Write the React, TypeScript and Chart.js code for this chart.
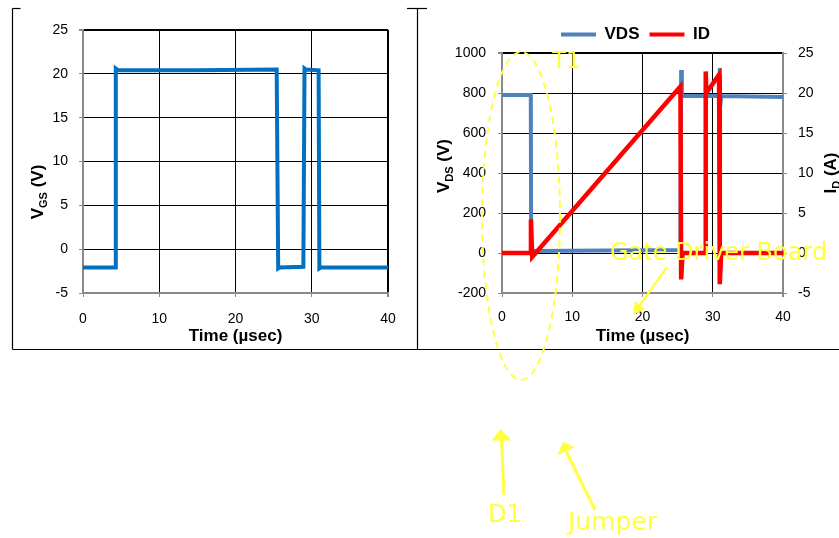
import React, { useEffect, useRef } from 'react';
import { Chart, registerables } from 'chart.js';

Chart.register(...registerables);

// ---------- data ----------
const timeTicks = [0, 10, 20, 30, 40];
const vgsTicks = [-5, 0, 5, 10, 15, 20, 25];
const vdsTicks = [-200, 0, 200, 400, 600, 800, 1000];
const idTicks = [-5, 0, 5, 10, 15, 20, 25];

// Gate-source voltage (left chart), time in µs, value in V
const vgsTime = [0, 4.2, 4.3, 4.6, 15, 25.4, 25.6, 25.8, 28.9, 29.05, 29.2, 30.9, 31.0, 31.2, 40];
const vgsValues = [-2.1, -2.1, 20.6, 20.4, 20.4, 20.5, -2.2, -2.1, -2.0, 20.6, 20.5, 20.4, -2.2, -2.1, -2.1];

// Drain-source voltage (right chart), V
const vdsTime = [0, 4.1, 4.15, 4.3, 25.4, 25.5, 25.6, 30.9, 31.0, 31.05, 31.2, 40];
const vdsValues = [790, 790, 10, 10, 15, 915, 785, 785, 925, 730, 785, 780];

// Drain current (right chart), A
const idTime = [0, 4.1, 4.12, 4.3, 25.4, 25.5, 25.7, 28.95, 29.0, 29.08, 30.9, 31.0, 31.2, 40];
const idValues = [0, 0, 4.2, -0.5, 20.8, -3.3, 0, 0, 22.7, 20.0, 22.3, -3.9, 0, 0];

const FONT = "'Liberation Sans', Arial, Helvetica, sans-serif";
const NOTE_FONT = "'DejaVu Sans', Verdana, sans-serif";
const GRAY = '#8a8a8a';
const YELLOW = '#FFFF40';

const toPoints = (xs: number[], ys: number[]) => xs.map((x, i) => ({ x, y: ys[i] }));

function gridColor(min: number, max: number, hideMax: boolean) {
  return (ctx: any) => {
    const v = ctx.tick ? ctx.tick.value : null;
    if (v === min) return 'rgba(0,0,0,0)';
    if (v === max && hideMax) return 'rgba(0,0,0,0)';
    return '#000';
  };
}
function gridWidth(max: number) {
  return (ctx: any) => (ctx.tick && ctx.tick.value === max ? 2 : 1);
}
const plainLabel = (v: any) => String(v);

function xScale(tickPad: number, hideMax: boolean) {
  return {
    type: 'linear',
    min: 0,
    max: 40,
    afterBuildTicks: (s: any) => {
      s.ticks = timeTicks.map((v) => ({ value: v }));
    },
    ticks: { font: { family: FONT, size: 14 }, color: '#000', padding: tickPad, maxRotation: 0, autoSkip: false, callback: plainLabel },
    grid: { color: gridColor(0, 40, hideMax), lineWidth: gridWidth(40), tickLength: 4, tickColor: GRAY },
    border: { color: GRAY, width: 2 },
    title: {
      display: true,
      text: 'Time (µsec)',
      font: { family: FONT, size: 17, weight: 'bold' },
      color: '#000',
      padding: { top: 0, bottom: 3 },
    },
    afterFit: (s: any) => {
      s.height = 57;
    },
  };
}

function yScale(min: number, max: number, ticksArr: number[], width: number, pad: number) {
  return {
    type: 'linear',
    position: 'left',
    min,
    max,
    afterBuildTicks: (s: any) => {
      s.ticks = ticksArr.map((v) => ({ value: v }));
    },
    ticks: { font: { family: FONT, size: 14 }, color: '#000', padding: pad, autoSkip: false, callback: plainLabel },
    grid: { color: gridColor(min, max, false), lineWidth: gridWidth(max), tickLength: 4, tickColor: GRAY },
    border: { color: GRAY, width: 2 },
    afterFit: (s: any) => {
      s.width = width;
    },
  };
}

export default function App() {
  const leftRef = useRef<HTMLCanvasElement>(null);
  const rightRef = useRef<HTMLCanvasElement>(null);

  useEffect(() => {
    const left = new Chart(leftRef.current as HTMLCanvasElement, {
      type: 'line',
      data: {
        datasets: [
          {
            label: 'VGS',
            data: toPoints(vgsTime, vgsValues),
            borderColor: '#0070C0',
            backgroundColor: '#0070C0',
            borderWidth: 4,
            pointRadius: 0,
            tension: 0,
          },
        ],
      },
      options: {
        animation: false,
        responsive: false,
        devicePixelRatio: 1,
        layout: { padding: { top: 30, right: 30, left: 0, bottom: 0 } },
        plugins: { legend: { display: false }, tooltip: { enabled: false } },
        scales: {
          x: xScale(14, false) as any,
          y: yScale(-5, 25, vgsTicks, 83, 11) as any,
        },
      },
    });

    const right = new Chart(rightRef.current as HTMLCanvasElement, {
      type: 'line',
      data: {
        datasets: [
          {
            label: 'VDS',
            data: toPoints(vdsTime, vdsValues),
            borderColor: '#4F81BD',
            backgroundColor: '#4F81BD',
            borderWidth: 4,
            pointRadius: 0,
            tension: 0,
            yAxisID: 'y',
            order: 2,
          },
          {
            label: 'ID',
            data: toPoints(idTime, idValues),
            borderColor: '#FF0000',
            backgroundColor: '#FF0000',
            borderWidth: 4.5,
            pointRadius: 0,
            tension: 0,
            yAxisID: 'y1',
            order: 1,
          },
        ],
      },
      options: {
        animation: false,
        responsive: false,
        devicePixelRatio: 1,
        layout: { padding: { top: 16, right: 0, left: 14, bottom: 0 } },
        plugins: {
          tooltip: { enabled: false },
          legend: {
            display: true,
            position: 'top',
            labels: {
              boxWidth: 35,
              boxHeight: 4,
              padding: 10,
              color: '#000',
              font: { family: FONT, size: 17, weight: 'bold' },
              generateLabels: (chart: any) =>
                chart.data.datasets.map((ds: any, i: number) => ({
                  text: ds.label,
                  fillStyle: ds.borderColor,
                  strokeStyle: ds.borderColor,
                  lineWidth: 0,
                  hidden: false,
                  datasetIndex: i,
                  fontColor: '#000',
                })),
            },
          },
        },
        scales: {
          x: xScale(12, true) as any,
          y: yScale(-200, 1000, vdsTicks, 70, 12) as any,
          y1: {
            type: 'linear',
            position: 'right',
            min: -5,
            max: 25,
            afterBuildTicks: (s: any) => {
              s.ticks = idTicks.map((v) => ({ value: v }));
            },
            ticks: { font: { family: FONT, size: 14 }, color: '#000', padding: 11, autoSkip: false, callback: plainLabel },
            grid: { drawOnChartArea: false, tickLength: 4, tickColor: GRAY },
            border: { color: GRAY, width: 2 },
            afterFit: (s: any) => {
              s.width = 56;
            },
          } as any,
        },
      },
    });

    return () => {
      left.destroy();
      right.destroy();
    };
  }, []);

  const titleStyle = { fontFamily: FONT, fontWeight: 'bold' as const, fontSize: 17, fill: '#000' };

  return (
    <div style={{ position: 'fixed', left: 0, top: 0, width: 839, height: 538, background: '#fff', overflow: 'hidden' }}>
      <canvas ref={leftRef} width={418} height={350} style={{ position: 'absolute', left: 0, top: 0 }} />
      <canvas ref={rightRef} width={421} height={350} style={{ position: 'absolute', left: 418, top: 0 }} />
      <svg width={839} height={538} style={{ position: 'absolute', left: 0, top: 0, pointerEvents: 'none' }}>
        {/* table borders */}
        <g stroke="#000" strokeWidth={1.2} fill="none">
          <line x1={12.5} y1={8.5} x2={12.5} y2={349.5} />
          <line x1={12.5} y1={8.5} x2={20.5} y2={8.5} />
          <line x1={407} y1={8.5} x2={427} y2={8.5} />
          <line x1={417.5} y1={8.5} x2={417.5} y2={349.5} />
          <line x1={12.5} y1={349.5} x2={839} y2={349.5} />
        </g>

        {/* axis titles with subscripts */}
        <text transform="translate(37,192) rotate(-90)" textAnchor="middle" y={6} style={titleStyle}>
          V<tspan fontSize={11} dy={4}>GS</tspan>
          <tspan dy={-4}> (V)</tspan>
        </text>
        <text transform="translate(443,166) rotate(-90)" textAnchor="middle" y={6} style={titleStyle}>
          V<tspan fontSize={11} dy={4}>DS</tspan>
          <tspan dy={-4}> (V)</tspan>
        </text>
        <text transform="translate(830,173) rotate(-90)" textAnchor="middle" y={6} style={titleStyle}>
          I<tspan fontSize={11} dy={4}>D</tspan>
          <tspan dy={-4}> (A)</tspan>
        </text>

        {/* yellow annotations */}
        <ellipse cx={521} cy={216} rx={39} ry={164} fill="none" stroke={YELLOW} strokeWidth={2} strokeDasharray="7 5" />
        <text x={552} y={68} fontFamily={NOTE_FONT} fontSize={23} fill={YELLOW}>T1</text>
        <text x={610} y={260} fontFamily={NOTE_FONT} fontSize={24} fill={YELLOW}>Gate Driver Board</text>
        <line x1={667} y1={267} x2={640} y2={305} stroke={YELLOW} strokeWidth={2.2} />
        <polygon points="633,315 645,309 635,301" fill={YELLOW} />

        <line x1={504} y1={495} x2={501.5} y2={440} stroke={YELLOW} strokeWidth={3} />
        <polygon points="500.7,429 491.5,440.5 511.5,440.5" fill={YELLOW} />
        <text x={488} y={522} fontFamily={NOTE_FONT} fontSize={24} fill={YELLOW}>D1</text>

        <line x1={595} y1={510} x2={566} y2={451} stroke={YELLOW} strokeWidth={3} />
        <polygon points="563.3,441.7 557.3,455 575,447.3" fill={YELLOW} />
        <text x={568} y={530} fontFamily={NOTE_FONT} fontSize={25} fill={YELLOW}>Jumper</text>
      </svg>
    </div>
  );
}
